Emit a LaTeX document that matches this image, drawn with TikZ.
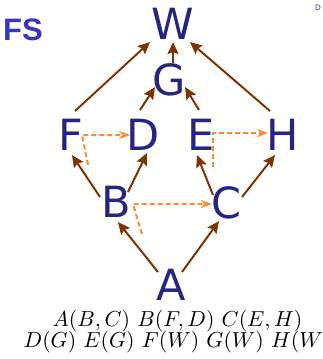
\documentclass[tikz,border=0pt]{standalone}
\usepackage{fontspec}
\newfontfamily\lettersfont{DejaVu Sans}
\newfontfamily\titlefont{Liberation Sans}
\usetikzlibrary{arrows.meta,calc}
\definecolor{nodeblue}{HTML}{262680}
\definecolor{titleblue}{HTML}{3636C0}
\definecolor{edgebrown}{HTML}{7F3300}
\definecolor{floworange}{HTML}{FF8833}

\begin{document}
\begin{tikzpicture}[x=1pt,y=-1pt,
  letter/.style={inner sep=0pt, anchor=base, text=nodeblue,
    font=\lettersfont\fontsize{43}{43}\selectfont},
  link/.style={draw=edgebrown, line width=2pt,
    -{Stealth[length=12pt,width=11pt,inset=2pt]}},
  flow/.style={draw=floworange, line width=2pt, dash pattern=on 5pt off 3pt,
    -{Stealth[length=11pt,width=8pt]}},
  formula/.style={inner sep=0pt, anchor=base, scale=2.17}]
\useasboundingbox (0,0) rectangle (322,359);

% title and corner mark
\node[anchor=base west, inner sep=0pt, text=titleblue,
  font=\titlefont\bfseries\fontsize{31}{31}\selectfont] (title) at (3,40) {FS};
\node[anchor=base, inner sep=0pt, text=titleblue,
  font=\titlefont\fontsize{8}{8}\selectfont] (mark) at (318,10) {D};

% vertices
\node[letter] (W) at (173,39) {W};
\node[letter] (G) at (169,95) {G};
\node[letter] (F) at (71,150) {F};
\node[letter] (D) at (143.5,150) {D};
\node[letter] (E) at (201,150) {E};
\node[letter] (H) at (282.5,150) {H};
\node[letter] (B) at (116.5,217) {B};
\node[letter] (C) at (227,218) {C};
\node[letter] (A) at (171,300) {A};

% edges
\draw[link] ($(F.center)+(4,-23.3)$) -- ($(W.center)+(-23,18.7)$);
\draw[link] ($(G.center)+(4,-16.3)$) -- ($(W.center)+(0,18.7)$);
\draw[link] ($(H.center)+(-12.5,-23.3)$) -- ($(W.center)+(17,18.7)$);
\draw[link] ($(D.center)+(-3.5,-24.3)$) -- ($(G.center)+(-14,7.7)$);
\draw[link] ($(E.center)+(-2,-24.3)$) -- ($(G.center)+(16,7.7)$);
\draw[link] ($(B.center)+(-16.5,-4.3)$) -- ($(F.center)+(1,20.7)$);
\draw[link] ($(B.center)+(11.5,-9.3)$) -- ($(D.center)+(3.5,18.7)$);
\draw[link] ($(C.center)+(-14,-7.3)$) -- ($(E.center)+(-4,20.7)$);
\draw[link] ($(C.center)+(15,-5.3)$) -- ($(H.center)+(-7.5,20.7)$);
\draw[link] ($(A.center)+(-13,-12.3)$) -- ($(B.center)+(1.5,20.7)$);
\draw[link] ($(A.center)+(11,-12.3)$) -- ($(C.center)+(-8,18.7)$);

% dashed flows between siblings
\draw[flow] ($(F.center)+(17,30.7)$) -- ($(F.center)+(11,0.7)$) -- ($(D.center)+(-13.5,0.7)$);
\draw[flow] ($(E.center)+(12,32.7)$) -- ($(E.center)+(12,-1.3)$) -- ($(H.center)+(-14.5,-1.3)$);
\draw[flow] ($(B.center)+(25.5,32.7)$) -- ($(B.center)+(16.5,2.7)$) -- ($(C.center)+(-15,1.7)$);

% adjacency lists
\node[formula] (line1) at (177.5,326) {$A(B,C)$ $B(F,D)$ $C(E,H)$};
\node[formula] (line2) at (177.5,347) {$D(G)$ $E(G)$ $F(W)$ $G(W)$ $H(W)$};
\end{tikzpicture}
\end{document}
